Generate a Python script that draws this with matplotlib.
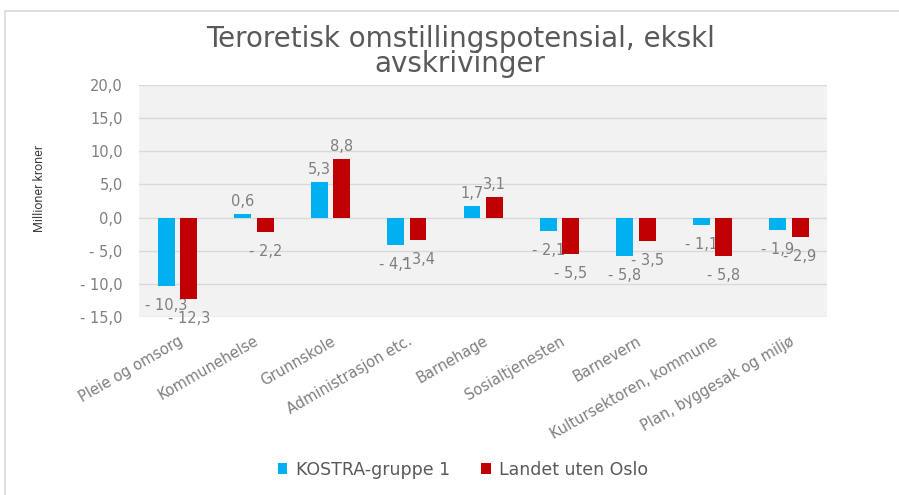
"""
Teroretisk omstillingspotensial - grouped bar chart
"""
import matplotlib
matplotlib.use("Agg")
import matplotlib.pyplot as plt
from matplotlib.lines import Line2D
import numpy as np

categories = ["Pleie og omsorg", "Kommunehelse", "Grunnskole", "Administrasjon etc.",
              "Barnehage", "Sosialtjenesten", "Barnevern", "Kultursektoren, kommune",
              "Plan, byggesak og miljø"]
kostra = [-10.3, 0.6, 5.3, -4.1, 1.7, -2.1, -5.8, -1.1, -1.9]
landet = [-12.3, -2.2, 8.8, -3.4, 3.1, -5.5, -3.5, -5.8, -2.9]
series_names = ["KOSTRA-gruppe 1", "Landet uten Oslo"]
yticks = [-15, -10, -5, 0, 5, 10, 15, 20]

BLUE = "#00B0F0"
RED = "#C00000"
GREY = "#595959"
LIGHTGREY = "#7F7F7F"

plt.rcParams['font.family'] = ['DejaVu Sans']


def fmt(v):
    s = f"{abs(v):.1f}".replace(".", ",")
    return "- " + s if v < 0 else s


def main():
    fig = plt.figure(figsize=(8.99, 4.95), dpi=100)
    # chart frame: only the left and top edges show in the picture
    fig.add_artist(Line2D([0.006, 0.006], [0.0, 0.978], transform=fig.transFigure,
                          color="#D9D9D9", lw=1.2))
    fig.add_artist(Line2D([0.006, 1.0], [0.978, 0.978], transform=fig.transFigure,
                          color="#D9D9D9", lw=1.2))
    ax = fig.add_axes([0.155, 0.360, 0.765, 0.468])
    ax.set_facecolor("#F2F2F2")

    x = np.arange(len(categories))
    w = 0.22
    b1 = ax.bar(x - 0.147, kostra, w, color=BLUE, zorder=3, label=series_names[0])
    b2 = ax.bar(x + 0.147, landet, w, color=RED, zorder=3, label=series_names[1])

    for bars, vals in ((b1, kostra), (b2, landet)):
        for bar, v in zip(bars, vals):
            off = 9 if v >= 0 else -14
            ax.annotate(fmt(v), (bar.get_x() + bar.get_width() / 2, v),
                        xytext=(0, off), textcoords="offset points",
                        ha="center", va="center", fontsize=10.5, color=LIGHTGREY, zorder=2)

    ax.set_ylim(-15, 20)
    ax.set_xlim(-0.5, len(categories) - 0.5)
    ax.set_yticks(yticks)
    ax.set_yticklabels([fmt(t) for t in yticks], fontsize=10.5, color=LIGHTGREY)
    ax.yaxis.grid(True, color="#D9D9D9", lw=1.0, zorder=0)
    ax.set_axisbelow(True)
    ax.tick_params(length=0)
    for s in ax.spines.values():
        s.set_visible(False)

    ax.set_xticks(x)
    ax.set_xticklabels(categories, rotation=30, ha="right", rotation_mode="anchor",
                       fontsize=10.5, color=LIGHTGREY)
    ax.tick_params(axis="x", pad=12)
    ax.tick_params(axis="y", pad=12)

    ax.set_ylabel("Millioner kroner", fontsize=9, family=['Roboto', 'DejaVu Sans'],
                  color="#404040")
    ax.yaxis.set_label_coords(-0.136, 0.556)
    fig.text(0.512, 0.842, "Teroretisk omstillingspotensial, ekskl\navskrivinger",
             ha="center", va="bottom", fontsize=20, color=GREY, linespacing=0.88)

    fig.legend(handles=[b1, b2], labels=series_names, loc="center",
               bbox_to_anchor=(0.515, 0.051), ncol=2, frameon=False, fontsize=12.5,
               handlelength=0.55, handleheight=0.55, columnspacing=1.8,
               handletextpad=0.5, labelcolor=GREY)

    fig.savefig("out.png", dpi=100)


if __name__ == '__main__':
    main()
